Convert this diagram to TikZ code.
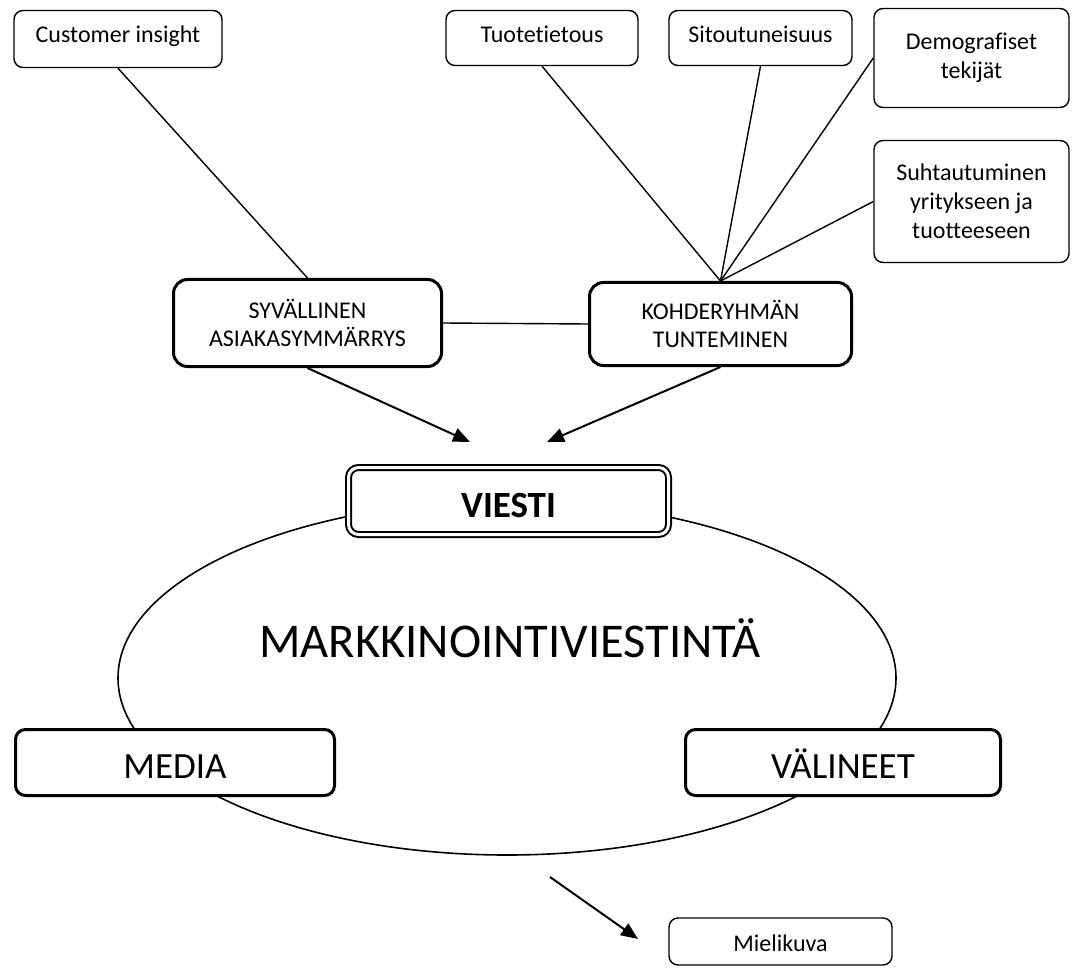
\documentclass[tikz,border=0pt]{standalone}
\usepackage{fontspec}
\setmainfont{Carlito}[Ligatures=NoCommon]
\usetikzlibrary{arrows.meta}
\begin{document}
\begin{tikzpicture}[x=1pt,y=-1pt,
  smallbox/.style={draw, rounded corners=9pt, line width=1.4pt, fill=white,
    font=\fontsize{24}{29}\selectfont, align=center, inner sep=0pt},
  midbox/.style={draw, rounded corners=14pt, line width=3pt, fill=white,
    font=\fontsize{24}{28}\selectfont, align=center, inner sep=0pt},
  bigbox/.style={draw, rounded corners=10pt, line width=3pt, fill=white,
    font=\fontsize{37}{44}\selectfont, inner sep=0pt,
    text height=31pt, text depth=0pt},
  conn/.style={line width=1.4pt},
  arr/.style={line width=2pt, -{Triangle[length=17pt,width=14pt]}}]
\useasboundingbox (0,0) rectangle (1073,968);

% ellipse
\draw[line width=1.6pt] (507,678) ellipse [x radius=389pt, y radius=177pt];
\node[font=\fontsize{48.5}{56}\selectfont, anchor=base, inner sep=0pt] (mv) at (510,657) {MARKKINOINTIVIESTINTÄ};

% top boxes
\node[smallbox, minimum width=208pt, minimum height=57pt, text height=16pt, text depth=8pt] (cust) at (118,39) {Customer insight};
\node[smallbox, minimum width=192pt, minimum height=55pt, text height=16pt, text depth=6pt] (tuo) at (542,38) {Tuotetietous};
\node[smallbox, minimum width=183pt, minimum height=55pt, text height=16pt, text depth=6pt] (sit) at (760.5,38) {Sitoutuneisuus};
\node[smallbox, minimum width=195pt, minimum height=99pt] (demo) at (971.5,58) {Demografiset\\tekijät};
\node[smallbox, minimum width=195pt, minimum height=122pt] (suh) at (971.5,201.5) {Suhtautuminen\\yritykseen ja\\tuotteeseen};

% middle boxes
\node[midbox, minimum width=268pt, minimum height=87pt] (syv) at (307.5,323) {SYVÄLLINEN\\ASIAKASYMMÄRRYS};
\node[midbox, minimum width=262pt, minimum height=83pt] (koh) at (720.5,324) {KOHDERYHMÄN\\TUNTEMINEN};

% connectors
\draw[conn] (cust.south) -- (syv.north);
\draw[conn] (tuo.south) -- (koh.north);
\draw[conn] (sit.south) -- (koh.north);
\draw[conn] (demo.west) -- (koh.north);
\draw[conn] (suh.west) -- (koh.north);
\draw[conn] (syv.east) -- (koh.west);

\coordinate (tipL) at (470,442);
\coordinate (tipR) at (547,442);
\draw[arr] (syv.south) -- (tipL);
\draw[arr] (koh.south) -- (tipR);

% VIESTI
\node[draw, double=white, line width=2pt, double distance=3pt, rounded corners=10pt,
  fill=white, minimum width=320pt, minimum height=67pt, inner sep=0pt,
  text height=32pt, text depth=0pt,
  font=\fontsize{37}{44}\selectfont\bfseries] (viesti) at (508.5,501) {VIESTI};

% MEDIA, VALINEET
\node[bigbox, minimum width=319pt, minimum height=66pt] (media) at (175,762.5) {MEDIA};
\node[bigbox, minimum width=315pt, minimum height=66pt] (val) at (843,762.5) {VÄLINEET};

% Mielikuva
\node[smallbox, minimum width=223pt, minimum height=47pt, text height=20pt, text depth=0pt] (miel) at (780.5,941.5) {Mielikuva};
\coordinate (mstart) at (550,877);
\coordinate (mtip) at (638,939);
\draw[arr] (mstart) -- (mtip);
\end{tikzpicture}
\end{document}
